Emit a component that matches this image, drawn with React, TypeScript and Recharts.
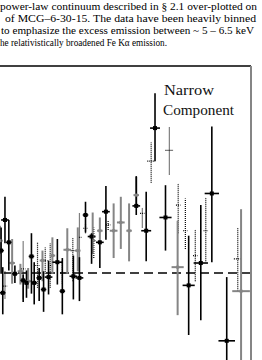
import { ScatterChart, Scatter, XAxis, YAxis, ErrorBar, ReferenceLine } from "recharts";

// rows: [energy keV, ratio, err low, err high, energy half-width]
const solidBins = [
  [3.51, 1.027, 0.028, 0.028, 0.05],
  [3.58, 1.064, 0.028, 0.028, 0.07],
  [3.65, 1.037, 0.034, 0.027, 0.05],
  [3.54, 0.976, 0.026, 0.031, 0.05],
  [3.76, 0.999, 0.011, 0.01, 0.05],
  [3.91, 0.991, 0.026, 0.007, 0.05],
  [3.97, 0.988, 0.018, 0.015, 0.04],
  [4.06, 1.02, 0.045, 0.028, 0.05],
  [4.11, 0.988, 0.026, 0.025, 0.05],
  [4.2, 0.994, 0.028, 0.012, 0.05],
  [4.28, 0.98, 0.027, 0.022, 0.05],
  [4.37, 0.995, 0.021, 0.02, 0.07],
  [4.53, 1.013, 0.027, 0.028, 0.09],
  [4.62, 0.978, 0.028, 0.04, 0.05],
  [4.82, 0.996, 0.028, 0.025, 0.07],
  [4.93, 0.994, 0.028, 0.025, 0.07],
  [5.04, 1.07, 0.021, 0.016, 0.05],
  [5.15, 1.044, 0.033, 0.004, 0.07],
  [5.3, 1.037, 0.031, 0.002, 0.07],
  [5.41, 1.074, 0.034, 0.031, 0.07],
  [5.96, 1.081, 0.011, 0.036, 0.07],
  [6.14, 1.051, 0.037, 0.047, 0.09],
  [6.3, 1.175, 0.04, 0.042, 0.09],
  [6.49, 1.067, 0.04, 0.039, 0.11],
  [6.91, 0.985, 0.06, 0.06, 0.11],
  [7.13, 1.012, 0.069, 0.07, 0.13],
  [7.33, 1.096, 0.083, 0.081, 0.13],
  [7.6, 0.918, 0.032, 0.077, 0.15],
];

const greyBins = [
  [3.49, 1.039, 0.016, 0.018, 0.05],
  [3.71, 1.012, 0.025, 0.029, 0.05],
  [3.86, 1.002, 0.016, 0.009, 0.05],
  [4.0, 0.99, 0.009, 0.016, 0.05],
  [4.26, 1.015, 0.025, 0.012, 0.05],
  [4.44, 1.021, 0.022, 0.022, 0.05],
  [4.71, 1.028, 0.029, 0.026, 0.07],
  [4.9, 1.027, 0.025, 0.028, 0.05],
  [5.17, 1.044, 0.021, 0.029, 0.05],
  [5.3, 1.051, 0.016, 0.016, 0.05],
  [5.55, 1.051, 0.033, 0.033, 0.07],
  [5.68, 1.061, 0.032, 0.031, 0.07],
  [5.83, 1.051, 0.037, 0.033, 0.05],
  [5.96, 1.094, 0.015, 0.022, 0.05],
  [6.71, 1.007, 0.058, 0.056, 0.11],
  [7.86, 0.978, 0.098, 0.099, 0.16],
];

const dottedBins = [
  [3.58, 0.984, 0.015, 0.018, 0.04],
  [3.91, 1.005, 0.036, 0.034, 0.04],
  [4.17, 1.009, 0.027, 0.028, 0.04],
  [4.31, 1.015, 0.016, 0.016, 0.04],
  [4.4, 1.009, 0.027, 0.027, 0.04],
  [4.62, 1.0, 0.013, 0.015, 0.04],
  [4.81, 1.027, 0.037, 0.016, 0.04],
  [4.93, 1.043, 0.028, 0.029, 0.04],
  [5.04, 1.054, 0.006, 0.006, 0.04],
  [5.19, 1.039, 0.021, 0.016, 0.04],
  [5.45, 1.058, 0.006, 0.006, 0.04],
  [6.07, 1.072, 0.017, 0.007, 0.04],
  [6.23, 1.135, 0.026, 0.023, 0.07],
  [6.56, 1.148, 0.029, 0.028, 0.07],
  [6.72, 1.082, 0.034, 0.026, 0.04],
  [6.85, 1.051, 0.022, 0.039, 0.04],
  [7.03, 1.021, 0.031, 0.031, 0.04],
  [7.22, 1.051, 0.037, 0.04, 0.04],
  [7.8, 1.017, 0.039, 0.037, 0.07],
];

const majorE = [4, 6, 8];
const minorE = [5, 7];
const majorR = [0.9, 1.0, 1.1, 1.2];
const minorR = [0.95, 1.05, 1.15];

const caption = [
  "power-law continuum described in § 2.1 over-plotted on",
  "of MCG–6-30-15.  The data have been heavily binned",
  "to emphasize the excess emission between ~ 5 – 6.5 keV",
  "he relativistically broadened Fe Kα emission.",
];

const toPoints = (rows: number[][]) =>
  rows.map(([x, y, lo, hi, xe]) => ({ x, y, ey: [lo, hi], ex: xe }));

const square = (color: string, s: number) => (p: any) =>
  <rect x={p.cx - s / 2} y={p.cy - s / 2} width={s} height={s} fill={color} />;

const noMark = () => <g />;

const GREY = "#858585";
const E_DOMAIN: [number, number] = [3.49, 8.04];
const R_DOMAIN: [number, number] = [0.89, 1.25];

export default function App() {
  return (
    <div
      style={{
        position: "fixed",
        left: 0,
        top: 0,
        width: 262,
        height: 360,
        overflow: "hidden",
        background: "#fff",
      }}
    >
      <ScatterChart width={262} height={380} margin={{ top: 66, right: 11, bottom: 16, left: 0 }}>
        <XAxis xAxisId="t" orientation="top" type="number" dataKey="x" domain={E_DOMAIN}
          allowDataOverflow ticks={majorE} height={1} mirror tick={false} tickSize={9}
          axisLine={{ stroke: "#000", strokeWidth: 1.5 }} tickLine={{ stroke: GREY, strokeWidth: 1.5 }} />
        <XAxis xAxisId="tm" orientation="top" type="number" dataKey="x" domain={E_DOMAIN}
          allowDataOverflow ticks={minorE} height={1} mirror tick={false} tickSize={6}
          axisLine={false} tickLine={{ stroke: "#000", strokeWidth: 1.5 }} />
        <XAxis xAxisId="b" orientation="bottom" type="number" dataKey="x" domain={E_DOMAIN}
          allowDataOverflow ticks={majorE} height={1} mirror tick={false} tickSize={8}
          axisLine={{ stroke: "#000", strokeWidth: 1.5 }} tickLine={{ stroke: GREY, strokeWidth: 1.5 }} />
        <XAxis xAxisId="bm" orientation="bottom" type="number" dataKey="x" domain={E_DOMAIN}
          allowDataOverflow ticks={minorE} height={1} mirror tick={false} tickSize={5}
          axisLine={false} tickLine={{ stroke: "#000", strokeWidth: 1.5 }} />
        <YAxis yAxisId="r" orientation="right" type="number" dataKey="y" domain={R_DOMAIN}
          allowDataOverflow ticks={majorR} width={1} mirror tick={false} tickSize={8}
          axisLine={{ stroke: GREY, strokeWidth: 2 }} tickLine={{ stroke: "#000", strokeWidth: 1.5 }} />
        <YAxis yAxisId="rm" orientation="right" type="number" dataKey="y" domain={R_DOMAIN}
          allowDataOverflow ticks={minorR} width={1} mirror tick={false} tickSize={5}
          axisLine={false} tickLine={{ stroke: "#000", strokeWidth: 1.5 }} />

        <ReferenceLine xAxisId="t" yAxisId="r" y={1} stroke="#000" strokeWidth={1.5} strokeDasharray="9 5" />

        <Scatter xAxisId="t" yAxisId="r" data={toPoints(dottedBins)} isAnimationActive={false} shape={noMark}>
          <ErrorBar dataKey="ey" direction="y" width={0} stroke="#000" strokeWidth={1.2} strokeDasharray="1 1" />
          <ErrorBar dataKey="ex" direction="x" width={0} stroke="#000" strokeWidth={1.2} strokeDasharray="1 1" />
        </Scatter>
        <Scatter xAxisId="t" yAxisId="r" data={toPoints(greyBins)} isAnimationActive={false} shape={square(GREY, 3)}>
          <ErrorBar dataKey="ey" direction="y" width={0} stroke={GREY} strokeWidth={2} />
          <ErrorBar dataKey="ex" direction="x" width={0} stroke={GREY} strokeWidth={2} />
        </Scatter>
        <Scatter xAxisId="t" yAxisId="r" data={toPoints(solidBins)} isAnimationActive={false} shape={square("#000", 4)}>
          <ErrorBar dataKey="ey" direction="y" width={0} stroke="#000" strokeWidth={1.6} />
          <ErrorBar dataKey="ex" direction="x" width={0} stroke="#000" strokeWidth={1.6} />
        </Scatter>
      </ScatterChart>

      <svg width={262} height={360} style={{ position: "absolute", left: 0, top: 0, pointerEvents: "none" }}>
        <g fontFamily="'Liberation Serif', serif" fontSize={11} fill="#000">
          <text x={0} y={9.5} textLength={257} lengthAdjust="spacingAndGlyphs">{caption[0]}</text>
          <text x={5} y={21.5} textLength={251} lengthAdjust="spacingAndGlyphs">{caption[1]}</text>
          <text x={1} y={33.5} textLength={253} lengthAdjust="spacingAndGlyphs">{caption[2]}</text>
          <text x={0} y={46} textLength={167} lengthAdjust="spacingAndGlyphs">{caption[3]}</text>
        </g>
        <g fontFamily="'Liberation Serif', serif" fontSize={14} fill="#111">
          <text x={164} y={95} textLength={50} lengthAdjust="spacingAndGlyphs">Narrow</text>
          <text x={163} y={115} textLength={71} lengthAdjust="spacingAndGlyphs">Component</text>
        </g>
      </svg>
    </div>
  );
}
